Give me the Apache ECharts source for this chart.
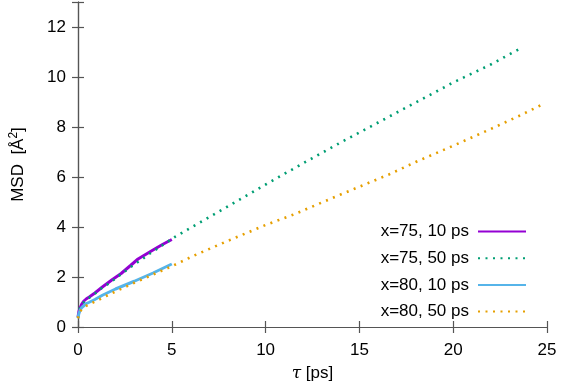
<!DOCTYPE html>
<html>
<head>
<meta charset="utf-8">
<script src="https://cdn.jsdelivr.net/npm/echarts@6/dist/echarts.min.js"></script>
<style>
  html, body { margin: 0; padding: 0; background: #fff; }
  #chart { width: 561px; height: 387px; }
</style>
</head>
<body>
<div id="chart"></div>
<script>
// tau [ps] / MSD [A^2]
var names = ['x=75, 10 ps', 'x=75, 50 ps', 'x=80, 10 ps', 'x=80, 50 ps'];
var colors = ['#9400d3', '#009e73', '#56b4e9', '#e69f00'];

var t75a = [0, 0.05, 0.12, 0.2, 0.3, 0.45, 0.6, 0.9, 1.3, 1.8, 2.3, 2.8, 3.2, 3.6, 4.0, 4.5, 5.0];
var v75a = [0.40, 0.62, 0.78, 0.92, 1.03, 1.13, 1.20, 1.36, 1.60, 1.88, 2.14, 2.46, 2.72, 2.90, 3.08, 3.30, 3.50];

var t75b = [0, 0.1, 0.3, 0.5, 0.85, 1.25, 1.6, 2.0, 2.3, 2.65, 3.0, 3.4, 3.7, 4.1, 4.5, 5.2, 6, 8, 10, 12, 14, 16, 18, 20, 22, 23.7];
var v75b = [0.40, 0.75, 0.98, 1.12, 1.30, 1.55, 1.72, 1.94, 2.12, 2.31, 2.51, 2.70, 2.88, 3.07, 3.27, 3.62, 3.97, 4.83, 5.70, 6.55, 7.38, 8.18, 8.98, 9.78, 10.50, 11.19];

var t80a = [0, 0.05, 0.12, 0.2, 0.3, 0.45, 0.6, 0.9, 1.3, 2.0, 3.0, 4.0, 5.0];
var v80a = [0.35, 0.55, 0.68, 0.78, 0.86, 0.94, 0.99, 1.10, 1.27, 1.52, 1.83, 2.16, 2.52];

var t80b = [0, 0.1, 0.3, 0.53, 1, 1.5, 2, 3, 4, 5, 6.2, 8, 10, 11.5, 14, 16.6, 18, 20, 22, 23.5, 24.7];
var v80b = [0.35, 0.62, 0.78, 0.88, 1.05, 1.24, 1.42, 1.77, 2.10, 2.43, 2.86, 3.45, 4.08, 4.50, 5.30, 6.11, 6.60, 7.25, 7.92, 8.44, 8.88];

var xTicks = [0, 5, 10, 15, 20, 25];
var yTicks = [0, 2, 4, 6, 8, 10, 12];

function pairs(t, v) {
    var out = [];
    for (var i = 0; i < t.length; i++) {
        out.push([t[i], v[i]]);
    }
    return out;
}

var font = 'Liberation Sans, Arial, sans-serif';
var frame = { show: true, lineStyle: { color: '#555', width: 1.2 } };
var ticks = { show: true, inside: true, length: 6, lineStyle: { color: '#555', width: 1.2 } };

var dotted = [2, 5.5];
var seriesData = [pairs(t75a, v75a), pairs(t75b, v75b), pairs(t80a, v80a), pairs(t80b, v80b)];
var series = [];
for (var i = 0; i < names.length; i++) {
    var isDot = (i % 2 == 1);
    series.push({
        name: names[i],
        type: 'line',
        data: seriesData[i],
        symbol: 'none',
        smooth: false,
        color: colors[i],
        lineStyle: {
            color: colors[i],
            width: isDot ? 2.6 : 3,
            type: isDot ? dotted : 'solid'
        }
    });
}

var myChart = echarts.init(document.getElementById('chart'));
var option = {
    animation: false,
    backgroundColor: '#fff',
    textStyle: { fontFamily: font },
    grid: { left: 76, right: 14, top: 2, bottom: 57 },
    legend: {
        data: names,
        orient: 'vertical',
        align: 'right',
        right: 29,
        top: 218,
        itemWidth: 48,
        itemHeight: 14,
        itemGap: 9.7,
        itemStyle: { opacity: 0 },
        textStyle: { fontSize: 17, color: '#000', fontFamily: font, padding: [0, 4, 0, 0] }
    },
    xAxis: [{
        type: 'value',
        min: 0, max: 25, interval: 5,
        name: '{i|τ} [ps]',
        nameLocation: 'middle',
        nameGap: 38,
        nameTextStyle: {
            fontSize: 17, color: '#000',
            rich: { i: { fontFamily: 'DejaVu Serif', fontStyle: 'italic', fontSize: 17, color: '#000' } }
        },
        axisLine: frame,
        axisTick: ticks,
        splitLine: { show: false },
        axisLabel: { fontSize: 17, color: '#000', margin: 15 }
    }, {
        type: 'value',
        position: 'top',
        min: 0, max: 25, interval: 5,
        axisLine: frame,
        axisTick: ticks,
        splitLine: { show: false },
        axisLabel: { show: false }
    }],
    yAxis: [{
        type: 'value',
        min: 0, max: 13, interval: 2,
        name: 'MSD  [Å{sup|2}]',
        nameLocation: 'middle',
        nameGap: 50,
        nameRotate: 90,
        nameTextStyle: {
            fontSize: 17, color: '#000',
            rich: { sup: { fontSize: 12, color: '#000', verticalAlign: 'top', padding: [0, 0, 8, 0] } }
        },
        axisLine: frame,
        axisTick: ticks,
        splitLine: { show: false },
        axisLabel: {
            fontSize: 17, color: '#000', margin: 12,
            formatter: function (v) { return yTicks.indexOf(v) >= 0 ? v : ''; }
        }
    }, {
        type: 'value',
        position: 'right',
        min: 0, max: 13, interval: 2,
        axisLine: frame,
        axisTick: ticks,
        splitLine: { show: false },
        axisLabel: { show: false }
    }],
    series: series
};
myChart.setOption(option);
</script>
</body>
</html>
